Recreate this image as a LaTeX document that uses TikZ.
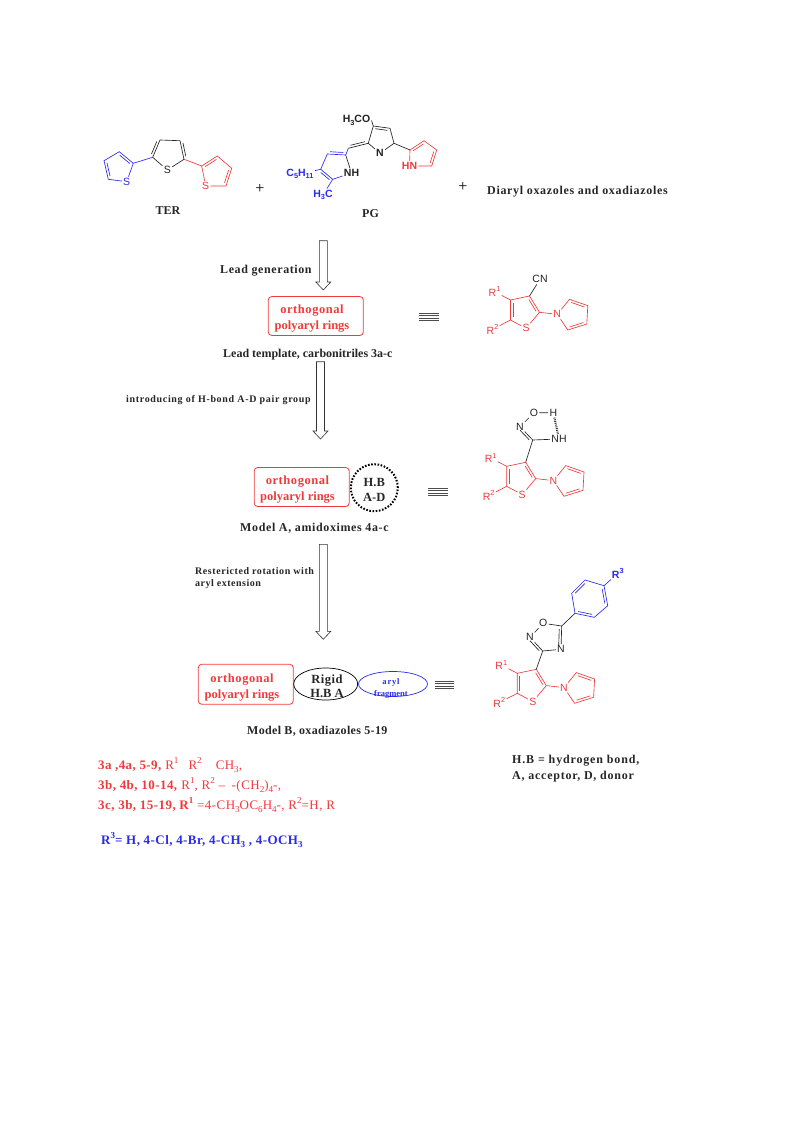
\documentclass[tikz,border=0pt]{standalone}
\usepackage{fontspec}
\setmainfont{Liberation Serif}
\newfontfamily\atomfont{Liberation Sans}
\usetikzlibrary{calc,shapes.geometric}
\definecolor{mred}{HTML}{F03A3A}
\definecolor{mblue}{HTML}{2A2AF0}
\definecolor{mblk}{HTML}{222222}
\newcommand{\sbs}[1]{\raisebox{-0.25em}{\scalebox{0.7}{#1}}}
\newcommand{\sps}[1]{\raisebox{0.45em}{\scalebox{0.7}{#1}}}
\newcommand{\LS}[1]{\addfontfeature{LetterSpace=#1}}
% double bond: \dbd{a}{b}{side angle}
\newcommand{\dbd}[3]{\draw ($(#1)!0.14!(#2)!2.4pt!#3:(#2)$) -- ($(#1)!0.86!(#2)!2.4pt!#3:(#2)$);}
\tikzset{
  x=1pt,y=-1pt,
  bond/.style={line width=0.65pt},
  atom/.style={font=\atomfont\fontsize{10.5}{12}\selectfont,inner sep=1pt},
  batom/.style={font=\atomfont\bfseries\fontsize{10.5}{12}\selectfont,inner sep=1pt},
  lab/.style={font=\bfseries\fontsize{12}{14}\selectfont,inner sep=0pt,text=black!85},
  lbl/.style={lab,anchor=west},
  smalllab/.style={font=\bfseries\fontsize{10}{12}\selectfont,inner sep=0pt,anchor=west,text=black!85},
  redlab/.style={font=\bfseries\fontsize{12.5}{16}\selectfont,inner sep=0pt,text=mred,align=center},
  blklab/.style={font=\bfseries\fontsize{12.5}{15}\selectfont,inner sep=0pt,text=black!85,align=center},
  rbox/.style={draw=mred,rounded corners=3.5pt,line width=0.8pt,inner sep=0pt},
  listlab/.style={font=\fontsize{13}{15}\selectfont,inner sep=0pt,anchor=west,text=mred},
  blockarrow/.style={draw=black!80,fill=white,line width=0.6pt},
  eqline/.style={draw=black!70,line width=0.5pt},
  plussign/.style={font=\fontsize{16}{18}\selectfont,inner sep=0pt}
}
% block arrow: \blockarr{cx}{top}{bottom}
\newcommand{\blockarr}[3]{\draw[blockarrow] (#1-4,#2) -- (#1+4,#2) -- (#1+4,#3-8) -- (#1+7.5,#3-8) -- (#1,#3) -- (#1-7.5,#3-8) -- (#1-4,#3-8) -- cycle;}
% four-line identity sign: \eqsign{x1}{x2}{ytop}
\newcommand{\eqsign}[3]{\foreach \k in {0,2.5,5,7.5}{\draw[eqline] (#1,#3+\k) -- (#2,#3+\k);}}
% shared thiophene + pyrrole, red: \core{ox}{oy}
\newcommand{\core}[2]{%
 \begin{scope}[shift={(#1,#2)},bond,draw=mred,text=mred]
  \node[atom] (S) at (16,32.3) {S};
  \coordinate (c2) at (29.5,16.3);
  \coordinate (c3) at (19.5,0);
  \coordinate (c4) at (0.5,4);
  \coordinate (c5) at (0.5,24);
  \node[atom] (N) at (47.2,18.3) {N};
  \coordinate (p2) at (59.5,3.3);
  \coordinate (p3) at (77.8,9.7);
  \coordinate (p4) at (76.8,28);
  \coordinate (p5) at (57.8,34);
  \node[atom] (R1) at (-15.5,-4.3) {R\sps{1}};
  \node[atom] (R2) at (-17.5,33.3) {R\sps{2}};
  \draw (S) -- (c2) -- (c3) -- (c4) -- (c5) -- (S);
  \dbd{c2}{c3}{90}
  \dbd{c4}{c5}{90}
  \draw (c2) -- (N) -- (p2) -- (p3) -- (p4) -- (p5) -- (N);
  \dbd{p2}{p3}{-90}
  \dbd{p4}{p5}{-90}
  \draw (c4) -- (R1);
  \draw (c5) -- (R2);
 \end{scope}}
\begin{document}
\begin{tikzpicture}
\useasboundingbox (0,0) rectangle (793,1123);
\fill[white] (0,0) rectangle (793,1123);

% ---- TER
\begin{scope}[bond,draw=mblue,text=mblue]
 \node[atom] (t1s) at (126.7,181.7) {S};
 \coordinate (t1a) at (133.3,163.3);
 \coordinate (t1b) at (119.3,151.7);
 \coordinate (t1c) at (104,160.7);
 \coordinate (t1d) at (108.3,179.3);
 \draw (t1s) -- (t1a) -- (t1b) -- (t1c) -- (t1d) -- (t1s);
 \dbd{t1a}{t1b}{90}
 \dbd{t1c}{t1d}{90}
\end{scope}
\begin{scope}[bond,draw=mblk,text=mblk]
 \node[atom] (t2s) at (167.3,170) {S};
 \coordinate (t2a) at (152.7,157.3);
 \coordinate (t2b) at (160,140);
 \coordinate (t2c) at (180,140.7);
 \coordinate (t2d) at (184,159.3);
 \draw (t2s) -- (t2a) -- (t2b) -- (t2c) -- (t2d) -- (t2s);
 \dbd{t2a}{t2b}{90}
 \dbd{t2c}{t2d}{90}
\end{scope}
\begin{scope}[bond,draw=mred,text=mred]
 \node[atom] (t3s) at (205.7,186) {S};
 \coordinate (t3a) at (201.7,166);
 \coordinate (t3b) at (217.3,156);
 \coordinate (t3c) at (231.7,168.3);
 \coordinate (t3d) at (226,186);
 \draw (t3s) -- (t3a) -- (t3b) -- (t3c) -- (t3d) -- (t3s);
 \dbd{t3a}{t3b}{-90}
 \dbd{t3c}{t3d}{-90}
\end{scope}
\draw[bond,mblue] (t1a) -- (t2a);
\draw[bond,mred] (t2d) -- (t3a);
\node[lab] (ter) at (168,211) {TER};
\node[plussign] (plus1) at (260,189) {+};

% ---- PG
\begin{scope}[bond,draw=mblk,text=mblk]
 \node[batom] (pgN) at (380,153.3) {N};
 \coordinate (pa) at (368.3,143.3);
 \coordinate (pb) at (373.3,126);
 \coordinate (pc) at (390,128.3);
 \coordinate (pd) at (394,143.3);
 \coordinate (pe) at (348.3,148.3);
 \node[batom] (ome) at (356.5,120.5) {H\sbs{3}CO};
 \draw (pgN) -- (pa) -- (pb) -- (pc) -- (pd) -- (pgN);
 \dbd{pb}{pc}{-90}
 \draw (pa) -- (pe);
 \dbd{pa}{pe}{-90}
 \draw (pb) -- (ome.east);
\end{scope}
\begin{scope}[bond,draw=mblue,text=mblue]
 \coordinate (lb) at (327.3,154);
 \coordinate (lc) at (320.7,169.3);
 \coordinate (ld) at (332.7,179.3);
 \node[batom,text=mblk] (lnh) at (351.5,173) {NH};
 \node[batom] (c5) at (300,174) {C\sbs{5}H\sbs{11}};
 \node[batom] (me) at (323,195) {H\sbs{3}C};
 \draw (pe) -- (345.7,155) coordinate (la) -- (lb) -- (lc) -- (ld);
 \dbd{la}{lb}{-90}
 \dbd{lc}{ld}{-90}
 \draw (ld) -- (lnh);
 \draw[mblk] (la) -- (lnh);
 \draw (lc) -- (c5);
 \draw (ld) -- (me);
\end{scope}
\begin{scope}[bond,draw=mred,text=mred]
 \coordinate (ra) at (410,150);
 \coordinate (rb) at (424,140.7);
 \coordinate (rc) at (436.7,150);
 \coordinate (rd) at (431.7,166);
 \node[batom] (rhn) at (409.5,166) {HN};
 \draw (rhn) -- (ra) -- (rb) -- (rc) -- (rd) -- (rhn);
 \dbd{ra}{rb}{-90}
 \dbd{rc}{rd}{-90}
\end{scope}
\draw[bond,mblk] (pd) -- (ra);
\node[lab] (pg) at (370.5,214) {PG};
\node[plussign] (plus2) at (463,187) {+};
\node[lbl] (diaryl) at (487,191.5) {\LS{5.6}Diaryl oxazoles and oxadiazoles};

% ---- arrows
\blockarr{323.3}{240.7}{290}
\blockarr{320.5}{361.7}{439}
\blockarr{323.3}{544.3}{639.3}

% ---- step 1
\node[lbl] (lead) at (220,270.5) {\LS{5}Lead generation};
\node[rbox,minimum width=95pt,minimum height=39pt] (box1) at (315.8,316) {};
\node[redlab] (box1t) at (312,319) {\LS{4.5}orthogonal\\polyaryl rings};
\eqsign{419}{439}{313}
\node[lbl] (leadt) at (223,354.5) {Lead template, carbonitriles 3a-c};
\core{510}{296}
\begin{scope}[bond,draw=mblk,text=mblk]
 \node[atom] (cn) at (540,279.3) {CN};
 \draw (c3) -- (cn);
\end{scope}

% ---- step 2
\node[smalllab] (hb) at (126,400.5) {\LS{6.7}introducing of H-bond A-D pair group};
\node[rbox,minimum width=95pt,minimum height=39pt] (box2) at (301.7,487) {};
\node[redlab] (box2t) at (297.5,490) {\LS{4.5}orthogonal\\polyaryl rings};
\node[circle,draw=black,line width=2pt,dash pattern=on 1.6pt off 1.6pt,minimum size=47pt,inner sep=0pt] (hbc) at (374.3,487.7) {};
\node[blklab] (hbct) at (374.3,489.5) {H.B\\A-D};
\eqsign{428}{448}{488}
\node[lbl] (mA) at (240,528) {\LS{5.2}Model A, amidoximes 4a-c};
\core{506.2}{462.3}
\begin{scope}[bond,draw=mblk,text=mblk]
 \node[atom] (aN) at (520,426.7) {N};
 \node[atom] (aO) at (534,412.7) {O};
 \node[atom] (aH) at (553.3,412.7) {H};
 \node[atom] (aNH) at (559,439) {NH};
 \coordinate (aC) at (532.7,440);
 \draw (c3) -- (aC) -- (aNH);
 \draw (aC) -- (aN);
 \dbd{aC}{aN}{90}
 \draw (aN) -- (aO) -- (aH);
 \draw[dash pattern=on 0.8pt off 1pt,line width=2pt] (aH) -- (aNH);
\end{scope}

% ---- step 3
\node[smalllab] (rr1) at (195,571.5) {\LS{5.6}Restericted rotation with};
\node[smalllab] (rr2) at (195,584.5) {\LS{5}aryl extension};
\node[rbox,minimum width=95pt,minimum height=40pt] (box3) at (245.8,684.3) {};
\node[redlab] (box3t) at (242,688) {\LS{4.5}orthogonal\\polyaryl rings};
\node[ellipse,draw=black,line width=0.7pt,minimum width=64pt,minimum height=32pt,inner sep=0pt] (rig) at (325.7,684) {};
\node[blklab,font=\bfseries\fontsize{12.5}{14}\selectfont] (rigt) at (327,686.5) {\LS{4}Rigid\\H.B A};
\node[ellipse,draw=mblue,line width=0.7pt,minimum width=69pt,minimum height=25pt,inner sep=0pt] (aryl) at (393,684) {};
\node[font=\bfseries\fontsize{8.5}{12}\selectfont,text=mblue,align=center,inner sep=0pt] (arylt) at (391,688) {\LS{10}aryl\\fragment};
\eqsign{434.5}{454}{681}
\node[lbl] (mB) at (247,731) {\LS{2.7}Model B, oxadiazoles 5-19};
\core{516.8}{669.3}
\begin{scope}[bond,draw=mblk,text=mblk]
 \coordinate (oC3) at (542.7,651);
 \node[atom] (oN2) at (530,637.3) {N};
 \node[atom] (oO) at (543.3,623.3) {O};
 \coordinate (oC5) at (561.7,626);
 \node[atom] (oN4) at (561,649.3) {N};
 \draw (c3) -- (oC3) -- (oN2) -- (oO) -- (oC5) -- (oN4) -- (oC3);
 \dbd{oC3}{oN2}{90}
 \dbd{oC5}{oN4}{-90}
\end{scope}
\begin{scope}[bond,draw=mblue,text=mblue]
 \coordinate (h1) at (575,613.3);
 \coordinate (h2) at (571.7,593.3);
 \coordinate (h3) at (585,580);
 \coordinate (h4) at (604,585.7);
 \coordinate (h5) at (607.7,605.7);
 \coordinate (h6) at (594.3,617.3);
 \node[batom] (R3) at (617.8,573.3) {R\sps{3}};
 \draw (h1) -- (h2) -- (h3) -- (h4) -- (h5) -- (h6) -- cycle;
 \dbd{h2}{h3}{-90}
 \dbd{h4}{h5}{-90}
 \dbd{h6}{h1}{-90}
 \draw (h4) -- (R3);
\end{scope}
\draw[bond,mblk] (oC5) -- (h1);

% ---- legends
\node[lbl] (leg1) at (512,760.5) {\LS{7}H.B = hydrogen bond,};
\node[lbl] (leg2) at (512,776.5) {\LS{6.3}A, acceptor, D, donor};
\node[listlab] (l1) at (98,765) {\LS{3}\textbf{3a ,4a, 5-9,} R\sps{1}\hspace{10pt}R\sps{2}\hspace{14pt}CH\sbs{3},};
\node[listlab] (l2) at (98,785) {\LS{3.5}\textbf{3b, 4b, 10-14,} R\sps{1}, R\sps{2} – \hspace{3pt}-(CH\sbs{2})\sbs{4}-,};
\node[listlab] (l3) at (98,805) {\LS{3.5}\textbf{3c, 3b, 15-19, R\sps{1}} =4-CH\sbs{3}OC\sbs{6}H\sbs{4}-, R\sps{2}=H, R};
\node[listlab,text=mblue,font=\bfseries\fontsize{13}{15}\selectfont] (l4) at (101,840) {\LS{3.4}R\sps{3}= H, 4-Cl, 4-Br, 4-CH\sbs{3} , 4-OCH\sbs{3}};
\end{tikzpicture}
\end{document}
